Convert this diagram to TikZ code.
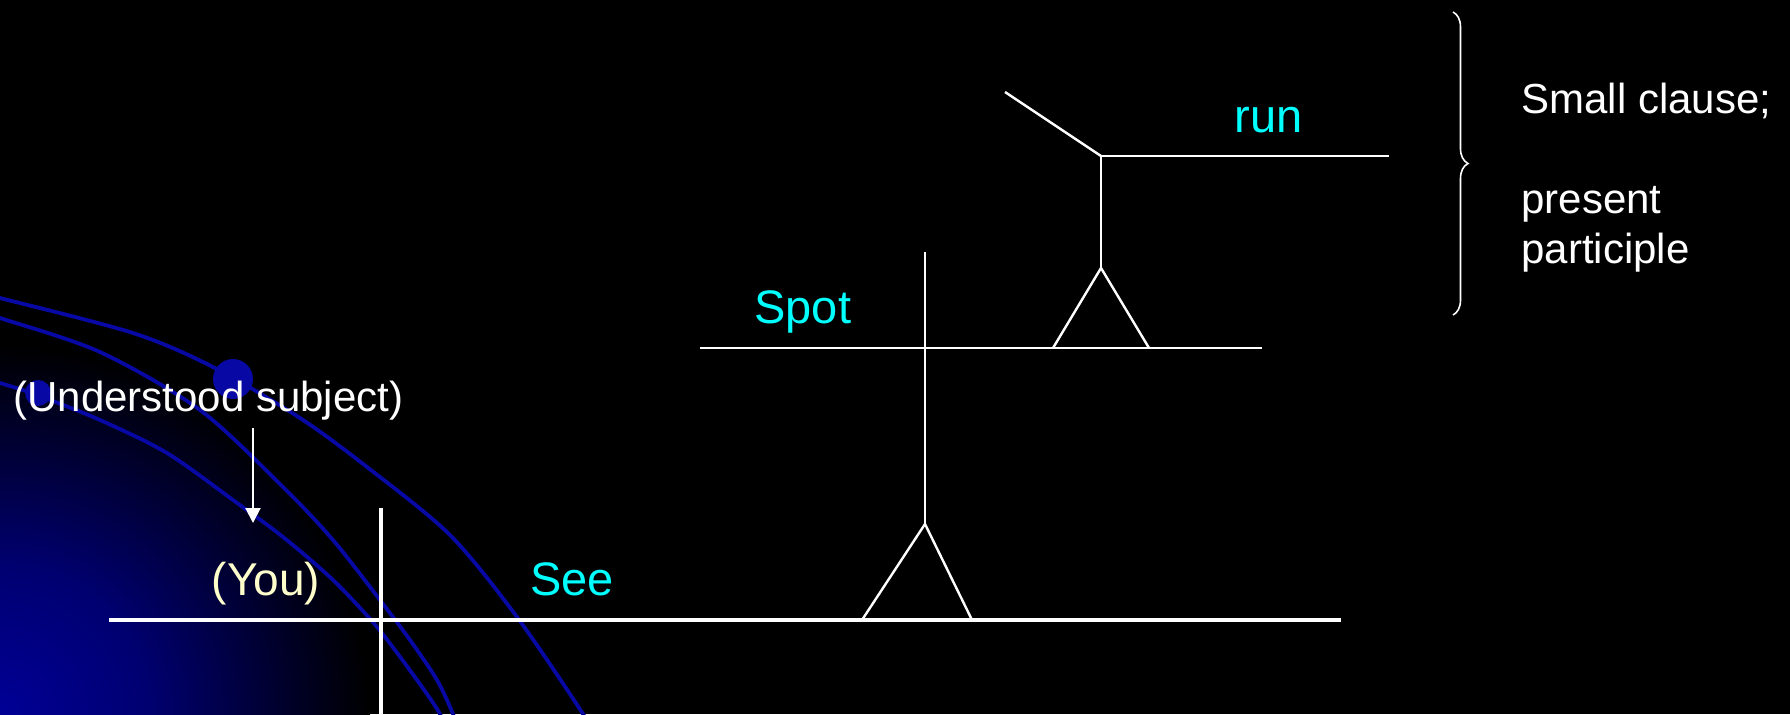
\documentclass[tikz,border=0pt]{standalone}
\usepackage{fontspec}
\setmainfont{Liberation Sans}
\usetikzlibrary{arrows.meta, positioning, decorations.pathreplacing}
\definecolor{glowblue}{RGB}{0,0,150}
\definecolor{arcblue}{RGB}{8,8,165}
\definecolor{wordcyan}{RGB}{0,255,255}
\definecolor{youcream}{RGB}{255,255,204}
\pgfdeclareradialshading{cornerglow}{\pgfpoint{0bp}{0bp}}{%
  color(0bp)=(glowblue); color(10bp)=(glowblue!75!black);
  color(25bp)=(black); color(50bp)=(black)}

\begin{document}
\begin{tikzpicture}[x=0.5pt, y=-0.5pt, >=Latex,
    thickline/.style={white, line width=2pt},
    thinline/.style={white, line width=1.2pt},
    bgarc/.style={arcblue, line width=1.9pt},
    word/.style={wordcyan, font=\fontsize{23.5}{28}\selectfont,
                 inner sep=0pt, anchor=base west},
    note/.style={white, font=\fontsize{21}{25}\selectfont,
                 inner sep=0pt, anchor=base west, align=left}]
  % Background
  \fill[black] (0,0) rectangle (1790,714);
  \useasboundingbox (0,0) rectangle (1790,714);
  \begin{scope}
    \clip (0,0) rectangle (1790,714);
    \shade[shading=cornerglow] (0,714) circle (370);
    \draw[bgarc] plot[smooth] coordinates {(-10,296) (0,298) (133,333)
      (213,367) (300,418) (367,467) (450,535) (517,617)
      (583,714) (595,740)};
    \draw[bgarc] plot[smooth] coordinates {(-10,315) (0,318) (100,352)
      (200,410) (283,487) (333,540) (380,600) (410,640)
      (437,680) (453,714) (462,740)};
    \draw[bgarc] plot[smooth] coordinates {(-10,381) (0,383) (37,395)
      (100,420) (167,453) (233,500) (283,537) (333,580)
      (377,627) (417,680) (440,714) (450,740)};
    \fill[arcblue] (233,379) circle (20);
    \fill[arcblue] (38,393) circle (13);
  \end{scope}

  % Main clause
  \coordinate (baseL) at (109,620);
  \coordinate (baseR) at (1341,620);
  \coordinate (divT) at (381,508);
  \coordinate (divB) at (381,714);
  \draw[thickline] (baseL) -- (baseR);
  \draw[thickline] (divT) -- (divB);
  \node[word, youcream, font=\fontsize{23}{28}\selectfont, anchor=base]
    (you) at (266,595) {(You)};
  \node[word] (see) at (530,595) {See};

  % Understood subject
  \node[note] (usubj) at (13,411) {(Understood subject)};
  \coordinate (arrT) at (253,428);
  \coordinate (arrB) at (253,523);
  \draw[white, line width=1pt, -{Triangle[width=7.5pt,length=7.5pt]}]
    (arrT) -- (arrB);

  % Object pedestal
  \coordinate (pedA) at (925,524);
  \coordinate (pedL) at (862,620);
  \coordinate (pedR) at (972,620);
  \coordinate (stemT) at (925,252);
  \draw[thinline] (pedL) -- (pedA) -- (pedR);
  \draw[thinline] (pedA) -- (stemT);

  % Small clause
  \coordinate (spotL) at (700,348);
  \coordinate (spotR) at (1262,348);
  \draw[thinline] (spotL) -- (spotR);
  \node[word] (spot) at (754,323) {Spot};
  \coordinate (sedA) at (1101,268);
  \coordinate (sedL) at (1053,348);
  \coordinate (sedR) at (1149,348);
  \coordinate (runJ) at (1101,156);
  \coordinate (runR) at (1389,156);
  \coordinate (slant) at (1005,92);
  \draw[thinline] (sedL) -- (sedA) -- (sedR);
  \draw[thinline] (sedA) -- (runJ) -- (runR);
  \draw[thinline] (slant) -- (runJ);
  \node[word] (run) at (1234,132) {run};

  % Brace and comment
  \coordinate (braceT) at (1453,12);
  \coordinate (braceB) at (1453,315);
  \draw[white, line width=0.8pt, decorate,
        decoration={brace, amplitude=7.5pt}] (braceT) -- (braceB);
  \node[note] (clause) at (1521,263) {Small clause;\\[25pt]present\\participle};
\end{tikzpicture}
\end{document}
